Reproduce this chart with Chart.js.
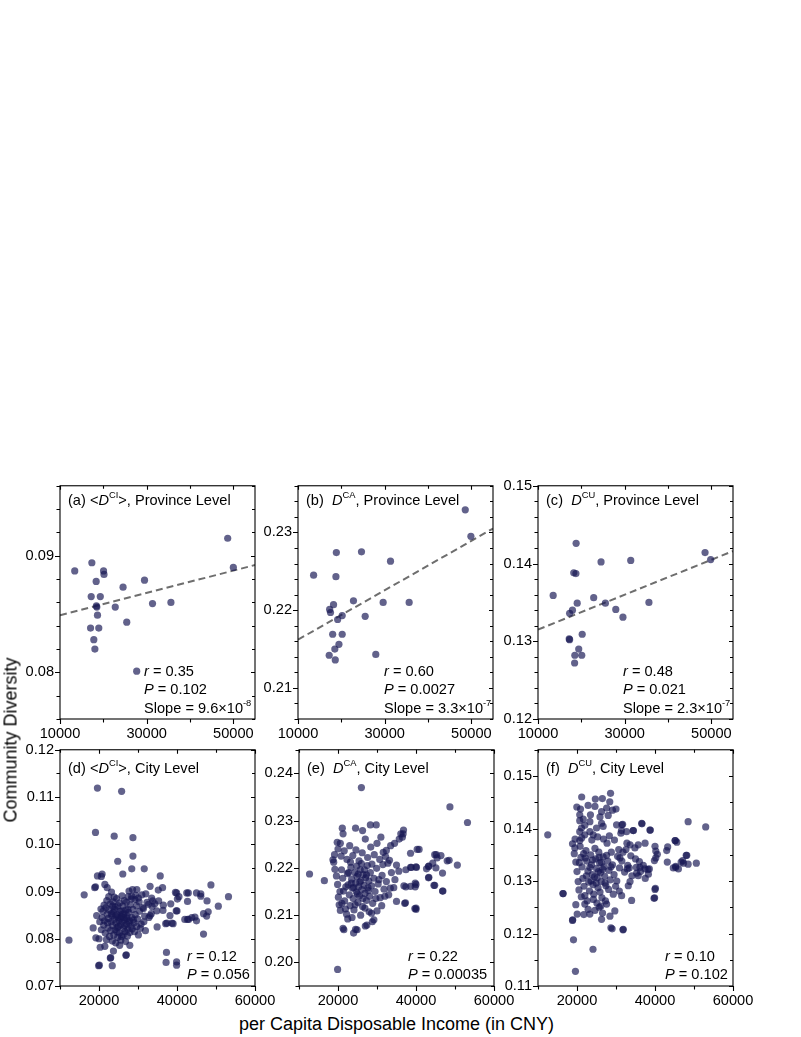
<!DOCTYPE html>
<html>
<head>
<meta charset="utf-8">
<title>Community Diversity vs Income</title>
<script src="https://cdn.jsdelivr.net/npm/chart.js@4.4.1/dist/chart.umd.min.js"></script>
<style>
  body { margin: 0; background: #fff; width: 801px; height: 1037px; position: relative; overflow: hidden;
         font-family: 'Liberation Sans', Arial, sans-serif; }
  .panel { position: absolute; }
  #xTitle { position: absolute; left: 0; width: 793px; top: 1014px; text-align: center; font-size: 18px; }
  #yTitle { position: absolute; left: 11px; top: 740px; font-size: 18px; white-space: nowrap;
            transform: translate(-50%, -50%) rotate(-90deg); }
</style>
</head>
<body>
<div id="pa" class="panel"><canvas></canvas></div>
<div id="pb" class="panel"><canvas></canvas></div>
<div id="pc" class="panel"><canvas></canvas></div>
<div id="pd" class="panel"><canvas></canvas></div>
<div id="pe" class="panel"><canvas></canvas></div>
<div id="pf" class="panel"><canvas></canvas></div>
<div id="xTitle">per Capita Disposable Income (in CNY)</div>
<div id="yTitle">Community Diversity</div>
<script>
// ---- data: [income (CNY), diversity] ----
const provCI = [
  [13400, 0.0887], [17350, 0.0894], [18350, 0.0878], [20050, 0.0887], [20150, 0.0884],
  [17200, 0.0865], [19300, 0.0865], [18500, 0.0856], [18400, 0.0857], [18650, 0.0849],
  [17050, 0.0838], [18950, 0.0838], [17800, 0.0828], [18050, 0.0820], [22750, 0.0856],
  [24550, 0.0873], [25400, 0.0843], [29500, 0.0879], [31350, 0.0859], [35600, 0.0860],
  [27700, 0.0801], [48700, 0.0915], [50000, 0.0890]
];
const provCA = [
  [13600, 0.2245], [18850, 0.2274], [24650, 0.2275], [18750, 0.2243], [31350, 0.2263],
  [17300, 0.2201], [17500, 0.2197], [18200, 0.2207], [22800, 0.2212], [20200, 0.2193],
  [19150, 0.2188], [25500, 0.2192], [29650, 0.2210], [35650, 0.2210], [18000, 0.2169],
  [20200, 0.2169], [19450, 0.2156], [18500, 0.2150], [17200, 0.2142], [18600, 0.2136],
  [27950, 0.2143], [48600, 0.2329], [49900, 0.2295]
];
const provCU = [
  [13500, 0.1359], [18800, 0.1426], [18250, 0.1388], [18750, 0.1387], [24550, 0.1402],
  [31400, 0.1404], [48550, 0.1414], [49850, 0.1405], [22850, 0.1356], [19050, 0.1349],
  [25550, 0.1349], [17950, 0.1340], [17300, 0.1336], [27950, 0.1341], [29600, 0.1331],
  [35600, 0.1350], [17200, 0.1303], [17300, 0.1302], [20200, 0.1309], [19400, 0.1290],
  [18500, 0.1282], [20100, 0.1282], [18450, 0.1272]
];
const cityCI = [
  [12300, 0.0797], [16200, 0.0893], [19600, 0.1119], [25800, 0.1112], [19100, 0.1025],
  [23900, 0.1017], [28700, 0.1014], [28700, 0.0975], [24800, 0.0964], [28400, 0.0948],
  [31600, 0.0948], [26100, 0.0937], [19600, 0.0933], [20800, 0.0937], [20600, 0.0932],
  [35700, 0.0933], [48700, 0.0914], [53200, 0.0889], [50600, 0.0869], [48000, 0.0857],
  [46100, 0.0895], [42900, 0.0897], [39900, 0.0897], [46800, 0.0810], [37300, 0.0771],
  [39900, 0.0751], [39900, 0.0744], [37200, 0.0750], [19900, 0.0743], [23400, 0.0743],
  [22900, 0.0759], [26900, 0.0765], [23000, 0.0760], [40000, 0.0859], [37100, 0.0832],
  [39000, 0.0832], [42700, 0.0841], [34900, 0.0825], [38400, 0.0874],
  [18900, 0.0908], [19100, 0.0910], [21500, 0.0915], [22100, 0.0908], [23200, 0.0899],
  [23900, 0.0888], [27700, 0.0901], [28600, 0.0904], [29700, 0.0904], [33100, 0.0911],
  [35200, 0.0903], [36300, 0.0908], [39600, 0.0898], [42500, 0.0897], [45000, 0.0897],
  [46100, 0.0890], [47700, 0.0880], [40100, 0.0884], [40500, 0.0889], [42700, 0.0879],
  [36500, 0.0871], [35300, 0.0880], [33500, 0.0886], [33800, 0.0880], [30300, 0.0878],
  [32700, 0.0873], [31400, 0.0864], [28400, 0.0890], [29200, 0.0883], [39800, 0.0859],
  [36400, 0.0860], [38200, 0.0849], [33100, 0.0849], [37400, 0.0833], [38700, 0.0833],
  [31900, 0.0817], [30100, 0.0808], [27900, 0.0786], [27000, 0.0766], [23700, 0.0774],
  [20100, 0.0744], [42000, 0.0841], [43000, 0.0841], [43800, 0.0845], [44600, 0.0846],
  [45000, 0.0838], [46800, 0.0853], [47600, 0.0848], [18500, 0.0823], [19400, 0.0849],
  [19200, 0.0802], [20000, 0.0800], [20300, 0.0782], [21500, 0.0784],
  [20500, 0.0863], [21000, 0.0858], [21300, 0.0871], [21800, 0.0866], [22100, 0.0852],
  [22400, 0.0843], [22600, 0.0861], [22900, 0.0874], [23100, 0.0836], [23300, 0.0849],
  [23500, 0.0828], [23700, 0.0856], [23900, 0.0841], [24100, 0.0819], [24200, 0.0867],
  [24400, 0.0833], [24600, 0.0851], [24700, 0.0824], [24900, 0.0845], [25100, 0.0838],
  [25200, 0.0812], [25400, 0.0858], [25500, 0.0829], [25700, 0.0847], [25800, 0.0805],
  [26000, 0.0836], [26100, 0.0869], [26300, 0.0822], [26400, 0.0853], [26600, 0.0840],
  [26700, 0.0815], [26900, 0.0861], [27100, 0.0831], [27200, 0.0848], [27400, 0.0820],
  [27600, 0.0856], [27800, 0.0838], [28000, 0.0872], [28200, 0.0827], [28400, 0.0845],
  [28700, 0.0862], [29000, 0.0834], [29300, 0.0851], [29600, 0.0870], [29900, 0.0842],
  [30400, 0.0858], [30800, 0.0831], [31200, 0.0866], [31700, 0.0848], [32300, 0.0877],
  [21200, 0.0829], [21600, 0.0812], [21900, 0.0798], [22300, 0.0823], [22700, 0.0805],
  [23000, 0.0817], [23400, 0.0795], [23800, 0.0808], [24300, 0.0791], [24800, 0.0803],
  [25300, 0.0786], [25600, 0.0797], [26200, 0.0808], [26800, 0.0794], [27300, 0.0806],
  [27900, 0.0813], [28500, 0.0821], [29100, 0.0815], [29700, 0.0826],
  [20800, 0.0845], [21400, 0.0838], [22000, 0.0881], [22500, 0.0889], [23600, 0.0878],
  [24500, 0.0885], [25300, 0.0876], [25900, 0.0891], [26500, 0.0881], [27000, 0.0877],
  [27500, 0.0889], [28300, 0.0884], [29400, 0.0892], [30100, 0.0886], [31000, 0.0893],
  [32000, 0.0895], [33600, 0.0868], [34300, 0.0874], [34800, 0.0859],
  [20200, 0.0836], [20600, 0.0819], [24000, 0.0862], [24800, 0.0870], [25000, 0.0826],
  [25500, 0.0843], [26000, 0.0852], [26600, 0.0828], [27100, 0.0843], [27700, 0.0834],
  [28800, 0.0840], [23200, 0.0853], [22200, 0.0834], [24600, 0.0815], [26400, 0.0845],
  [25700, 0.0859], [24300, 0.0848], [27400, 0.0862], [23500, 0.0869], [30600, 0.0822],
  [31500, 0.0836], [32800, 0.0845], [33400, 0.0853]
];
const cityCA = [
  [12700, 0.2187], [16500, 0.2173], [26000, 0.2370], [48700, 0.2329], [53200, 0.2296],
  [50600, 0.2206], [48500, 0.2216], [46800, 0.2189], [45100, 0.2200], [46400, 0.2226],
  [45200, 0.2228], [44800, 0.2163], [46900, 0.2151], [43300, 0.2180], [42700, 0.2198],
  [43200, 0.2203], [44300, 0.2210], [40800, 0.2239], [38800, 0.2201], [40000, 0.2202],
  [40000, 0.2165], [39800, 0.2160], [40000, 0.2115], [40000, 0.2112], [37300, 0.2126],
  [36900, 0.2162], [36800, 0.2280], [36700, 0.2272], [36500, 0.2265], [19900, 0.1985],
  [21500, 0.2069], [24000, 0.2062], [24900, 0.2069], [27400, 0.2079], [28800, 0.2086],
  [30000, 0.2109], [21100, 0.2284], [21300, 0.2272], [24500, 0.2284], [26300, 0.2279],
  [28300, 0.2291], [29800, 0.2291], [31000, 0.2265], [36100, 0.2272], [35700, 0.2261],
  [34500, 0.2252], [33500, 0.2247], [32400, 0.2237], [31600, 0.2233], [19800, 0.2254],
  [20600, 0.2252], [19100, 0.2228], [18700, 0.2217], [18900, 0.2212], [38600, 0.2231],
  [40300, 0.2239], [44800, 0.2228], [45400, 0.2221], [48000, 0.2215], [43300, 0.2204],
  [40100, 0.2201], [38600, 0.2201], [37400, 0.2196], [35600, 0.2193], [35000, 0.2206],
  [32800, 0.2210], [43200, 0.2179], [44600, 0.2163], [46800, 0.2151], [39800, 0.2168],
  [38600, 0.2161], [37400, 0.2160], [37100, 0.2125], [39700, 0.2114], [28600, 0.2104],
  [29200, 0.2090], [27000, 0.2077], [24500, 0.2070], [21300, 0.2072],
  [19200, 0.2197], [19600, 0.2183], [19900, 0.2165], [20100, 0.2138], [20300, 0.2122],
  [20600, 0.2110], [20900, 0.2196], [21200, 0.2178], [21400, 0.2151], [21700, 0.2130],
  [21900, 0.2113], [22200, 0.2102], [22400, 0.2188], [22600, 0.2164], [22900, 0.2143],
  [23100, 0.2120], [23300, 0.2201], [23500, 0.2176], [23700, 0.2157], [23900, 0.2135],
  [24100, 0.2111], [24300, 0.2190], [24500, 0.2168], [24700, 0.2149], [24900, 0.2182],
  [25100, 0.2127], [25300, 0.2160], [25500, 0.2141], [25700, 0.2196], [25900, 0.2173],
  [26100, 0.2154], [26300, 0.2118], [26500, 0.2186], [26700, 0.2163], [26900, 0.2146],
  [27100, 0.2179], [27300, 0.2131], [27500, 0.2205], [27700, 0.2158], [27900, 0.2172],
  [28100, 0.2140], [28300, 0.2190], [28600, 0.2162], [28900, 0.2125], [29200, 0.2178],
  [29500, 0.2150], [29900, 0.2199], [30300, 0.2166], [30800, 0.2137], [31300, 0.2184],
  [31800, 0.2155], [32400, 0.2171], [33000, 0.2143], [33700, 0.2190], [34300, 0.2158],
  [35000, 0.2129],
  [20000, 0.2240], [20800, 0.2225], [21600, 0.2236], [22300, 0.2218], [23000, 0.2247],
  [23800, 0.2226], [24600, 0.2238], [25400, 0.2215], [26200, 0.2232], [27000, 0.2261],
  [27600, 0.2222], [28400, 0.2244], [29300, 0.2228], [30000, 0.2252], [30700, 0.2218],
  [31500, 0.2207], [32200, 0.2224], [33200, 0.2216],
  [22700, 0.2190], [24000, 0.2158], [25000, 0.2145], [25600, 0.2170], [26400, 0.2135],
  [26800, 0.2196], [27800, 0.2152], [24400, 0.2122], [23600, 0.2095], [25800, 0.2100],
  [26900, 0.2115], [28000, 0.2107], [22500, 0.2092], [21000, 0.2125], [23400, 0.2168],
  [24800, 0.2204], [26000, 0.2209], [27300, 0.2185], [25200, 0.2187], [23200, 0.2212],
  [29700, 0.2135], [31200, 0.2120], [32000, 0.2140], [33400, 0.2157], [34600, 0.2175],
  [30500, 0.2175], [28700, 0.2208], [22000, 0.2160], [20500, 0.2150]
];
const cityCU = [
  [12500, 0.1388], [16400, 0.1276], [18900, 0.1226], [19100, 0.1188], [19600, 0.1128],
  [24100, 0.1170], [31800, 0.1207], [29000, 0.1209], [53000, 0.1403], [48500, 0.1413],
  [50600, 0.1334], [48500, 0.1332], [48000, 0.1349], [47100, 0.1339], [46700, 0.1336],
  [44700, 0.1325], [45300, 0.1328], [45200, 0.1377], [45600, 0.1374], [40000, 0.1366],
  [40200, 0.1357], [40200, 0.1344], [40100, 0.1286], [39900, 0.1268], [38800, 0.1397],
  [36600, 0.1410], [34400, 0.1396], [31500, 0.1407], [31400, 0.1396],
  [21200, 0.1460], [24700, 0.1456], [26500, 0.1457], [28600, 0.1467], [28400, 0.1451],
  [19950, 0.1441], [20900, 0.1437], [22850, 0.1444], [24600, 0.1442], [26300, 0.1432],
  [27600, 0.1439], [29100, 0.1435], [30000, 0.1437], [20700, 0.1426], [21600, 0.1418],
  [23450, 0.1426], [25900, 0.1422], [28000, 0.1425], [20700, 0.1415], [22000, 0.1406],
  [23300, 0.1413], [25000, 0.1401], [26300, 0.1410], [26700, 0.1404], [18850, 0.1371],
  [19450, 0.1363], [20700, 0.1377], [22000, 0.1388], [23300, 0.1394], [24150, 0.1388],
  [20700, 0.1394], [21150, 0.1401], [30150, 0.1407], [31700, 0.1408], [31250, 0.1391],
  [32700, 0.1394], [36650, 0.1409], [38700, 0.1397], [34450, 0.1396], [45150, 0.1377],
  [43250, 0.1365], [43000, 0.1358], [40600, 0.1351], [37450, 0.1372], [35700, 0.1369],
  [33600, 0.1369], [34850, 0.1363], [32550, 0.1360], [39850, 0.1339], [43150, 0.1336],
  [45300, 0.1326], [46000, 0.1323], [47300, 0.1334], [48150, 0.1349], [36150, 0.1326],
  [37450, 0.1323], [38550, 0.1323], [38300, 0.1313], [35700, 0.1310], [35300, 0.1315],
  [33400, 0.1325], [32900, 0.1323], [31000, 0.1344], [33600, 0.1299], [33150, 0.1291],
  [40000, 0.1284], [39750, 0.1267], [34000, 0.1263], [30850, 0.1281], [31450, 0.1272],
  [16450, 0.1276], [19700, 0.1255], [22000, 0.1256], [22850, 0.1246], [21750, 0.1236],
  [20050, 0.1237], [18850, 0.1225], [24600, 0.1244], [25700, 0.1250], [26550, 0.1239],
  [27600, 0.1256], [29700, 0.1243], [28450, 0.1233], [28700, 0.1211], [31850, 0.1208],
  [26300, 0.1227], [23300, 0.1237],
  [19300, 0.1352], [19700, 0.1336], [20000, 0.1318], [20300, 0.1299], [20500, 0.1283],
  [20800, 0.1366], [21000, 0.1345], [21300, 0.1327], [21500, 0.1305], [21800, 0.1290],
  [22000, 0.1272], [22300, 0.1358], [22500, 0.1338], [22800, 0.1319], [23000, 0.1298],
  [23200, 0.1281], [23500, 0.1350], [23700, 0.1331], [23900, 0.1312], [24100, 0.1293],
  [24300, 0.1275], [24600, 0.1362], [24800, 0.1342], [25000, 0.1324], [25200, 0.1306],
  [25400, 0.1287], [25600, 0.1355], [25800, 0.1335], [26000, 0.1316], [26200, 0.1299],
  [26400, 0.1268], [26700, 0.1346], [26900, 0.1327], [27100, 0.1309], [27400, 0.1291],
  [27700, 0.1372], [27900, 0.1338], [28200, 0.1320], [28500, 0.1302], [28800, 0.1355],
  [29100, 0.1331], [29500, 0.1312], [29900, 0.1290], [30400, 0.1347], [30900, 0.1325],
  [31500, 0.1338], [32200, 0.1317], [33000, 0.1330], [34100, 0.1310], [35200, 0.1326],
  [36300, 0.1318], [37500, 0.1305],
  [19500, 0.1380], [21200, 0.1382], [23800, 0.1378], [25300, 0.1384], [26800, 0.1380],
  [28300, 0.1386], [29600, 0.1378], [24200, 0.1265], [25100, 0.1258], [26100, 0.1252],
  [27300, 0.1262], [22600, 0.1262], [21100, 0.1270],
  [22100, 0.1344], [23300, 0.1326], [24500, 0.1308], [25700, 0.1345], [26600, 0.1322],
  [27600, 0.1349], [28700, 0.1327], [24000, 0.1340], [25500, 0.1318], [26300, 0.1335],
  [23600, 0.1300], [22400, 0.1310], [27200, 0.1296], [28100, 0.1284], [29300, 0.1275],
  [30200, 0.1300], [24900, 0.1296], [25900, 0.1279], [20600, 0.1335], [21700, 0.1352],
  [30700, 0.1360], [31800, 0.1355], [32800, 0.1372], [33800, 0.1348], [35000, 0.1342],
  [36000, 0.1337], [37000, 0.1330], [38200, 0.1322]
];

// fitted lines (end points)
const fitCI = [[10000, 0.0849], [55000, 0.0892]];
const fitCA = [[10000, 0.2162], [55000, 0.2305]];
const fitCU = [[10000, 0.1315], [55000, 0.1416]];

// correlation labels
const statR = ['0.35', '0.60', '0.48', '0.12', '0.22', '0.10'];
const statP = ['0.102', '0.0027', '0.021', '0.056', '0.00035', '0.102'];
const statSlope = [['9.6', '-8'], ['3.3', '-7'], ['2.3', '-7']];

// tick labels
const provXTicks = [10000, 30000, 50000];
const cityXTicks = [20000, 40000, 60000];
const yTicksA = [0.08, 0.09];
const yTicksB = [0.21, 0.22, 0.23];
const yTicksC = [0.12, 0.13, 0.14, 0.15];
const yTicksD = [0.07, 0.08, 0.09, 0.10, 0.11, 0.12];
const yTicksE = [0.20, 0.21, 0.22, 0.23, 0.24];
const yTicksF = [0.11, 0.12, 0.13, 0.14, 0.15];

const FONT = "'Liberation Sans', Arial, sans-serif";
const TEXT_SIZE = 14.6;
const dotColor = 'rgba(24, 24, 84, 0.68)';

// draw a line of text made of plain / italic / superscript runs
function drawRuns(ctx, x, y, runs, size) {
    let cx = x;
    runs.forEach(run => {
        const s = run.sup ? size * 0.64 : size;
        ctx.font = (run.it ? 'italic ' : '') + s + 'px ' + FONT;
        ctx.fillText(run.t, cx, run.sup ? y - size * 0.36 : y);
        cx += ctx.measureText(run.t).width;
    });
}

// box with ticks on all four sides, plus the panel texts
const framePlugin = {
    id: 'frame',
    afterDraw(chart) {
        const o = chart.options.plugins.frame;
        const { ctx, chartArea: a, scales: { x, y } } = chart;
        ctx.save();
        ctx.strokeStyle = '#000';
        ctx.lineWidth = 1.1;
        ctx.strokeRect(a.left, a.top, a.right - a.left, a.bottom - a.top);

        ctx.beginPath();
        const nx = Math.floor((x.max - x.min) / o.xMinor + 1e-6);
        for (let i = 0; i <= nx; i++) {
            const v = x.min + i * o.xMinor;
            const major = o.xMajor.some(m => Math.abs(m - v) < o.xMinor / 10);
            const out = major ? 5 : 3.5, inn = major ? 4 : 3;
            const px = Math.round(x.getPixelForValue(v)) + 0.5;
            ctx.moveTo(px, a.bottom); ctx.lineTo(px, a.bottom + out);
            ctx.moveTo(px, a.top); ctx.lineTo(px, a.top + inn);
        }
        const ny = Math.floor((y.max - y.min) / o.yMinor + 1e-6);
        for (let i = 0; i <= ny; i++) {
            const v = y.min + i * o.yMinor;
            const major = o.yMajor.some(m => Math.abs(m - v) < o.yMinor / 10);
            const out = major ? 5 : 3.5, inn = major ? 4 : 3;
            const py = Math.round(y.getPixelForValue(v)) + 0.5;
            ctx.moveTo(a.left, py); ctx.lineTo(a.left - out, py);
            ctx.moveTo(a.right, py); ctx.lineTo(a.right - inn, py);
        }
        ctx.stroke();

        ctx.fillStyle = '#000';
        ctx.textBaseline = 'middle';
        ctx.textAlign = 'left';
        drawRuns(ctx, a.left + 8, a.top + o.titleDy, o.title, TEXT_SIZE);
        o.stats.forEach((line, i) => {
            drawRuns(ctx, a.left + o.statsDx, a.bottom - o.statsDy[i], line, TEXT_SIZE);
        });
        ctx.restore();
    }
};

function makePanel(id, geo, points, fit, xRange, xTicks, xMinor, yRange, yTicks, yMinor, title, stats, titleDy, statsDx, statsDy) {
    const box = document.getElementById(id);
    const padL = 50, padT = 12, padR = 28, padB = 24;
    box.style.left = (geo.left - padL) + 'px';
    box.style.top = (geo.top - padT) + 'px';
    box.style.width = (geo.w + padL + padR) + 'px';
    box.style.height = (geo.h + padT + padB) + 'px';

    const datasets = [{
        data: points.map(p => ({ x: p[0], y: p[1] })),
        backgroundColor: dotColor,
        borderWidth: 0,
        pointRadius: 3.6,
        pointHoverRadius: 3.6
    }];
    if (fit) {
        datasets.push({
            type: 'line',
            data: fit.map(p => ({ x: p[0], y: p[1] })),
            borderColor: 'rgba(110, 110, 110, 1)',
            borderWidth: 2,
            borderDash: [7, 4],
            pointRadius: 0,
            fill: false
        });
    }

    const tickFont = { family: FONT, size: TEXT_SIZE };
    new Chart(box.querySelector('canvas'), {
        type: 'scatter',
        data: { datasets },
        plugins: [framePlugin],
        options: {
            responsive: true,
            maintainAspectRatio: false,
            animation: false,
            layout: { padding: { left: 0, top: padT, right: padR, bottom: 0 } },
            plugins: {
                legend: { display: false },
                tooltip: { enabled: false },
                frame: { xMajor: xTicks, xMinor, yMajor: yTicks, yMinor, title, stats, titleDy, statsDx, statsDy }
            },
            scales: {
                x: {
                    type: 'linear', min: xRange[0], max: xRange[1],
                    grid: { display: false, drawTicks: false },
                    border: { display: false },
                    ticks: { font: tickFont, color: '#000', padding: 6, maxRotation: 0, autoSkip: false,
                             callback: v => String(v) },
                    afterBuildTicks: s => { s.ticks = xTicks.map(v => ({ value: v })); },
                    afterFit: s => { s.height = padB; }
                },
                y: {
                    type: 'linear', min: yRange[0], max: yRange[1],
                    grid: { display: false, drawTicks: false },
                    border: { display: false },
                    ticks: { font: tickFont, color: '#000', padding: 6, autoSkip: false,
                             callback: v => v.toFixed(2) },
                    afterBuildTicks: s => { s.ticks = yTicks.map(v => ({ value: v })); },
                    afterFit: s => { s.width = padL; }
                }
            }
        }
    });
}

function titleRuns(letter, sup, level, brackets) {
    return brackets
        ? [{ t: '(' + letter + ') <' }, { t: 'D', it: true }, { t: sup, sup: true }, { t: '>, ' + level }]
        : [{ t: '(' + letter + ')  ' }, { t: 'D', it: true }, { t: sup, sup: true }, { t: ', ' + level }];
}
function statRuns(i) {
    const lines = [
        [{ t: 'r', it: true }, { t: ' = ' + statR[i] }],
        [{ t: 'P', it: true }, { t: ' = ' + statP[i] }]
    ];
    if (statSlope[i]) {
        lines.push([{ t: 'Slope = ' + statSlope[i][0] + '\u00d710' }, { t: statSlope[i][1], sup: true }]);
    }
    return lines;
}

const provX = [10000, 55000], cityX = [10000, 60000];
makePanel('pa', { left: 60, top: 483, w: 195, h: 236 }, provCI, fitCI, provX, provXTicks, 10000,
    [0.076, 0.096], yTicksA, 0.002, titleRuns('a', 'CI', 'Province Level', true), statRuns(0), 15, 84, [47, 29, 10]);
makePanel('pb', { left: 298, top: 483, w: 195, h: 236 }, provCA, fitCA, provX, provXTicks, 10000,
    [0.206, 0.236], yTicksB, 0.002, titleRuns('b', 'CA', 'Province Level', false), statRuns(1), 15, 86, [47, 29, 10]);
makePanel('pc', { left: 538, top: 483, w: 195, h: 236 }, provCU, fitCU, provX, provXTicks, 10000,
    [0.12, 0.15], yTicksC, 0.002, titleRuns('c', 'CU', 'Province Level', false), statRuns(2), 15, 85, [47, 29, 10]);
makePanel('pd', { left: 60, top: 747, w: 195, h: 239 }, cityCI, null, cityX, cityXTicks, 10000,
    [0.07, 0.12], yTicksD, 0.005, titleRuns('d', 'CI', 'City Level', true), statRuns(3), 19, 127, [29, 11]);
makePanel('pe', { left: 299, top: 747, w: 195, h: 239 }, cityCA, null, cityX, cityXTicks, 10000,
    [0.195, 0.245], yTicksE, 0.005, titleRuns('e', 'CA', 'City Level', false), statRuns(4), 19, 109, [29, 11]);
makePanel('pf', { left: 538, top: 747, w: 195, h: 239 }, cityCU, null, cityX, cityXTicks, 10000,
    [0.11, 0.155], yTicksF, 0.005, titleRuns('f', 'CU', 'City Level', false), statRuns(5), 19, 127, [29, 11]);
</script>
</body>
</html>
